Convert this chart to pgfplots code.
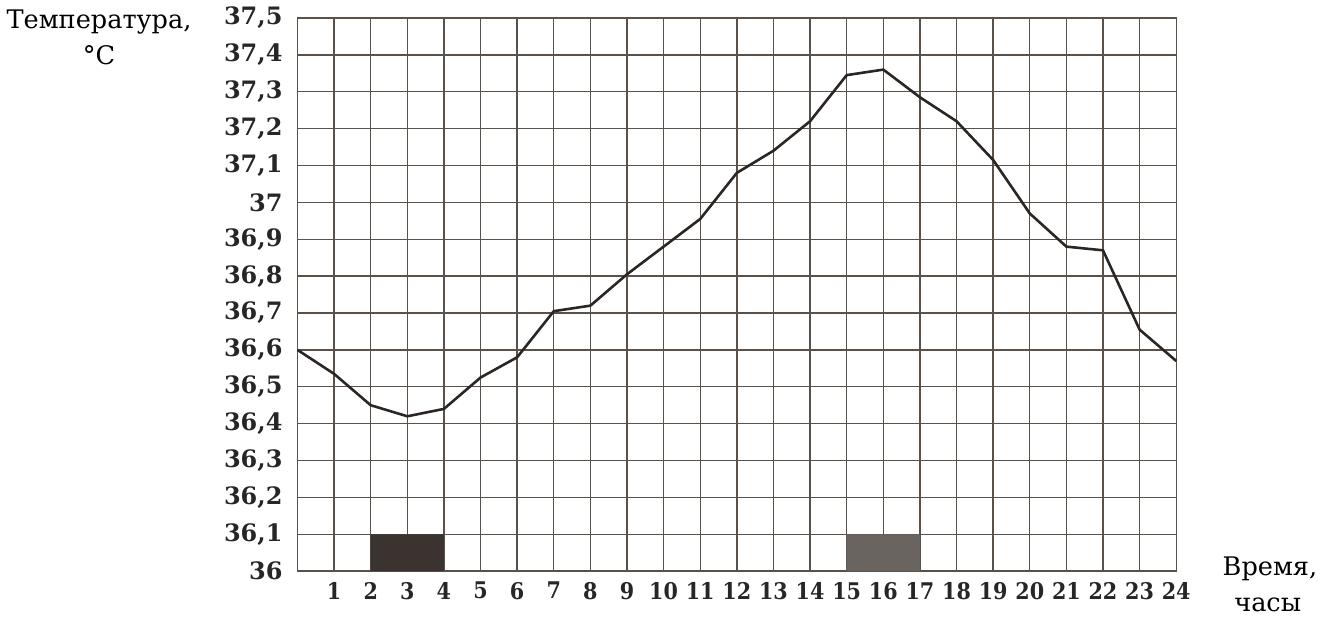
\documentclass[border=0pt]{standalone}
\usepackage{fontspec}
\setmainfont{DejaVu Serif}
\newfontfamily\condfont{DejaVu Serif Condensed}
\usepackage{pgfplots}
\pgfplotsset{compat=1.18}
\definecolor{gridc}{HTML}{5A514B}
\definecolor{linec}{HTML}{2B2623}
\definecolor{rectA}{HTML}{3A3330}
\definecolor{rectB}{HTML}{6A6461}
\begin{document}
\begin{tikzpicture}
\begin{axis}[
  scale only axis, width=440pt, height=277pt,
  xmin=0, xmax=24, ymin=36, ymax=37.5,
  xtick={1,...,24},
  xticklabels={1,2,3,4,5,6,7,8,9,10,11,12,13,14,15,16,17,18,19,20,21,22,23,24},
  ytick={36,36.1,36.2,36.3,36.4,36.5,36.6,36.7,36.8,36.9,37,37.1,37.2,37.3,37.4,37.5},
  yticklabels={36,{36,1},{36,2},{36,3},{36,4},{36,5},{36,6},{36,7},{36,8},{36,9},37,{37,1},{37,2},{37,3},{37,4},{37,5}},
  major tick length=0pt,
  grid=major,
  major grid style={gridc, line width=0.7pt},
  axis line style={gridc, line width=0.7pt},
  yticklabel style={font=\fontsize{12}{14}\selectfont\bfseries, text=black!85, xshift=-4pt},
  xticklabel style={font=\condfont\fontsize{11.5}{14}\selectfont\bfseries, text=black!85, yshift=-2pt},
  clip=false,
]
\addplot[fill=rectA, draw=none] coordinates {(2,36) (4,36) (4,36.1) (2,36.1) (2,36)};
\addplot[fill=rectB, draw=none] coordinates {(15,36) (17,36) (17,36.1) (15,36.1) (15,36)};
\addplot[linec, line width=1.3pt, line join=round] coordinates {
(0,36.60) (1,36.535) (2,36.45) (3,36.42) (4,36.44) (5,36.525) (6,36.58)
(7,36.705) (8,36.72) (9,36.805) (10,36.88) (11,36.955) (12,37.08) (13,37.14)
(14,37.22) (15,37.345) (16,37.36) (17,37.285) (18,37.22) (19,37.115) (20,36.97)
(21,36.88) (22,36.87) (23,36.655) (24,36.57)};
\node[font=\fontsize{12.8}{14}\selectfont] at (axis cs:-5.42,37.49) {Температура,};
\node[font=\fontsize{12.8}{14}\selectfont] at (axis cs:-5.42,37.40) {°C};
\node[font=\fontsize{12.8}{14}\selectfont] at (axis cs:26.56,36.005) {Время,};
\node[font=\fontsize{12.8}{14}\selectfont] at (axis cs:26.5,35.91) {часы};
\end{axis}
\path (current axis.south west) ++(-148pt,-23pt) rectangle ++(663pt,309pt);
\end{tikzpicture}
\end{document}
